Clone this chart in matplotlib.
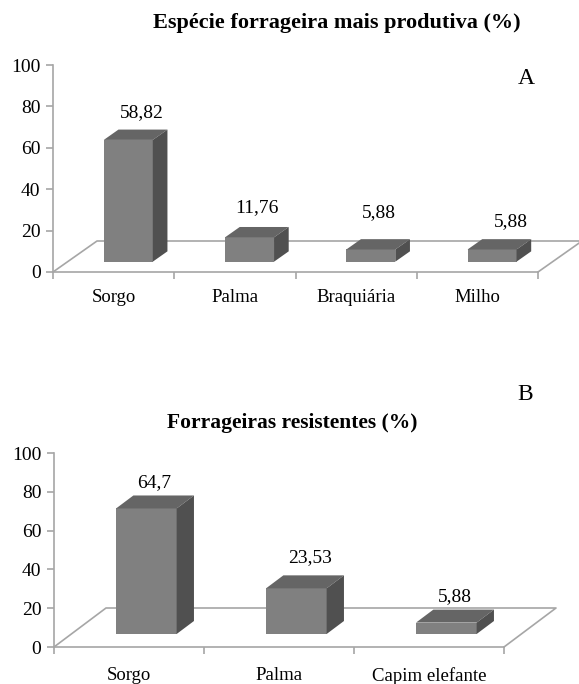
import numpy as np
import matplotlib
matplotlib.use("Agg")
import matplotlib.pyplot as plt

plt.rcParams['font.family'] = ['Liberation Serif', 'DejaVu Serif']

# dados
cats_a = ["Sorgo", "Palma", "Braquiária", "Milho"]
vals_a = [58.82, 11.76, 5.88, 5.88]
labels_a = ["58,82", "11,76", "5,88", "5,88"]

cats_b = ["Sorgo", "Palma", "Capim elefante"]
vals_b = [64.7, 23.53, 5.88]
labels_b = ["64,7", "23,53", "5,88"]

W, H = 579, 684
fig = plt.figure(figsize=(W / 100, H / 100), dpi=100)

front_c = "#808080"
top_c = "#656565"
side_c = "#505050"
axis_c = "#a6a6a6"
fs = 14


def painel(rect, cats, vals, labels, depth, lab_dx, lab_dy, labelpad):
    ax = fig.add_axes(rect)
    n = len(cats)
    dx, dy = depth
    ax.set_xlim(0, n)
    ax.set_ylim(0, 100)
    for s in ['top', 'right']:
        ax.spines[s].set_visible(False)
    ax.spines['left'].set_color(axis_c)
    ax.spines['bottom'].set_color(axis_c)
    ax.spines['left'].set_linewidth(1.2)
    ax.spines['bottom'].set_linewidth(1.2)
    ax.patch.set_visible(False)

    # piso
    ax.plot([0, dx, n + dx, n], [0, dy, dy, 0], color=axis_c, lw=1.2,
            clip_on=False, zorder=1)

    # barras 3D
    w = 0.404
    x = np.arange(n) + 0.5
    left = x - w / 2 + dx / 3
    base = dy / 3
    ax.bar(left, vals, width=w, bottom=base, align='edge', color=front_c,
           zorder=3, clip_on=False)
    for l, v in zip(left, vals):
        r = l + w
        t = base + v
        ax.fill([l, r, r + dx / 3, l + dx / 3], [t, t, t + dy / 3, t + dy / 3],
                color=top_c, zorder=3, clip_on=False, lw=0)
        ax.fill([r, r + dx / 3, r + dx / 3, r],
                [base, base + dy / 3, t + dy / 3, t],
                color=side_c, zorder=3, clip_on=False, lw=0)

    for i, (v, s) in enumerate(zip(vals, labels)):
        ax.text(x[i] + lab_dx[i], v + 2 * dy / 3 + lab_dy[i], s,
                ha='center', va='center', fontsize=fs)

    ax.set_yticks(np.arange(0, 101, 20))
    ax.tick_params(axis='y', colors=axis_c, labelcolor='black', labelsize=fs,
                   length=5, width=1.2, pad=4)
    ax.set_xticks(np.arange(n + 1))
    ax.set_xticklabels([])
    ax.set_xticks(x, minor=True)
    ax.set_xticklabels(cats, minor=True)
    ax.tick_params(axis='x', which='major', colors=axis_c, length=5, width=1.2)
    ax.tick_params(axis='x', which='minor', length=0, labelsize=fs - 0.5,
                   pad=labelpad)
    return ax


ax1 = painel([53 / W, (H - 272) / H, 485 / W, 207 / H], cats_a, vals_a,
             labels_a, (44 / 121.25, 31 / 2.07),
             [0.23, 0.18, 0.19, 0.28], [8, 9.6, 12.6, 8.3], 12.5)
ax2 = painel([54 / W, (H - 647) / H, 450 / W, 194 / H], cats_b, vals_b,
             labels_b, (52 / 150, 39 / 1.94),
             [0.17, 0.21, 0.17], [6.4, 9, 6.5], 14.5)

fig.text(337 / W, 1 - 23 / H, "Espécie forrageira mais produtiva (%)",
         ha='center', va='center', fontsize=16, fontweight='bold')
fig.text(292 / W, 1 - 423 / H, "Forrageiras resistentes (%)",
         ha='center', va='center', fontsize=15.5, fontweight='bold')
fig.text(526 / W, 1 - 78 / H, "A", ha='center', va='center', fontsize=17)
fig.text(525 / W, 1 - 394 / H, "B", ha='center', va='center', fontsize=17)

fig.savefig("out.png", dpi=100)
